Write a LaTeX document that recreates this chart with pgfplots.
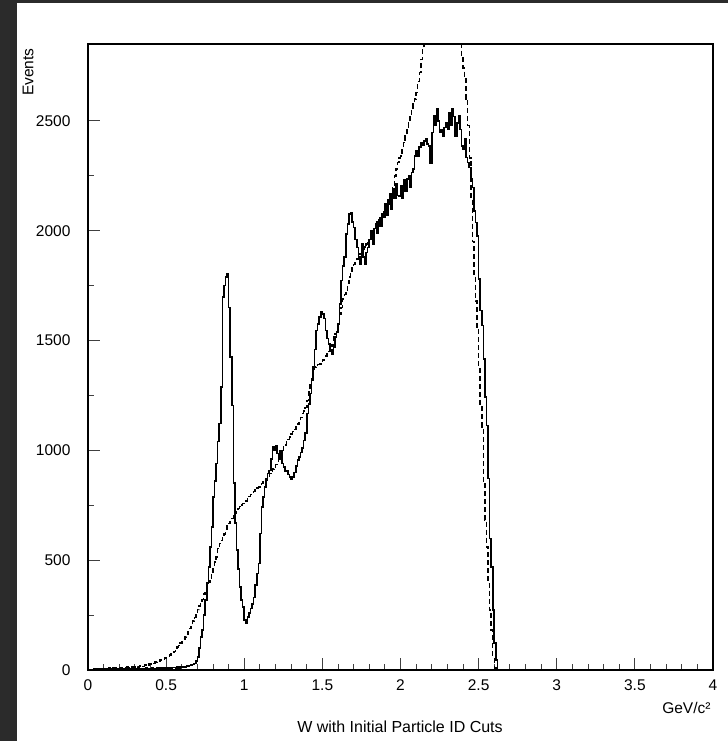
\documentclass[border=0pt]{standalone}
\usepackage{fontspec}
\setmainfont{Liberation Sans}
\usepackage{pgfplots}
\usepackage{pgfplotstable}
\pgfplotsset{compat=1.18}
\definecolor{framegray}{HTML}{2B2B2B}

% W spectrum, 0.01 GeV bins (lower bin edge):
% s = events with initial particle ID cuts, d = comparison spectrum (dashed)
\pgfplotstableread{
x s d
0.00 0 2
0.01 2 0
0.02 0 3
0.03 3 5
0.04 5 2
0.05 2 4
0.06 0 6
0.07 4 3
0.08 3 5
0.09 2 4
0.10 3 5
0.11 4 6
0.12 2 4
0.13 6 8
0.14 3 7
0.15 5 6
0.16 4 9
0.17 2 8
0.18 6 7
0.19 4 10
0.20 5 8
0.21 3 10
0.22 6 12
0.23 4 9
0.24 5 11
0.25 7 13
0.26 3 10
0.27 6 14
0.28 5 12
0.29 4 15
0.30 6 14
0.31 4 16
0.32 5 13
0.33 7 18
0.34 6 20
0.35 3 17
0.36 5 22
0.37 8 24
0.38 6 21
0.39 5 27
0.40 6 28
0.41 8 32
0.42 5 30
0.43 7 36
0.44 9 40
0.45 6 38
0.46 8 45
0.47 7 50
0.48 10 48
0.49 8 55
0.50 9 58
0.51 7 62
0.52 10 68
0.53 8 72
0.54 11 80
0.55 12 85
0.56 9 95
0.57 13 105
0.58 10 112
0.59 14 122
0.60 12 130
0.61 15 140
0.62 14 150
0.63 18 162
0.64 16 175
0.65 20 190
0.66 22 205
0.67 25 222
0.68 30 238
0.69 40 255
0.70 60 275
0.71 100 292
0.72 150 305
0.73 182 320
0.74 250 345
0.75 318 364
0.76 395 385
0.77 470 400
0.78 560 418
0.79 651 447
0.80 788 470
0.81 860 492
0.82 940 515
0.83 1040 553
0.84 1122 577
0.85 1288 590
0.86 1697 606
0.87 1750 620
0.88 1790 640
0.89 1805 655
0.90 1651 668
0.91 1424 680
0.92 1205 690
0.93 850 700
0.94 668 712
0.95 545 722
0.96 460 735
0.97 379 745
0.98 320 752
0.99 288 758
1.00 227 758
1.01 215 770
1.02 242 780
1.03 260 790
1.04 280 800
1.05 300 803
1.06 330 812
1.07 386 820
1.08 440 828
1.09 485 833
1.10 621 840
1.11 742 848
1.12 788 856
1.13 833 864
1.14 864 870
1.15 895 880
1.16 909 895
1.17 960 905
1.18 1015 915
1.19 1000 924
1.20 1020 935
1.21 986 950
1.22 960 968
1.23 1000 985
1.24 940 1000
1.25 925 1015
1.26 905 1025
1.27 909 1040
1.28 890 1050
1.29 879 1061
1.30 870 1075
1.31 880 1085
1.32 900 1095
1.33 930 1106
1.34 955 1120
1.35 970 1135
1.36 990 1150
1.37 1010 1167
1.38 1045 1180
1.39 1080 1195
1.40 1167 1227
1.41 1210 1265
1.42 1258 1303
1.43 1320 1340
1.44 1379 1370
1.45 1460 1379
1.46 1545 1385
1.47 1575 1390
1.48 1606 1394
1.49 1630 1405
1.50 1621 1412
1.51 1600 1420
1.52 1545 1430
1.53 1510 1439
1.54 1485 1450
1.55 1460 1462
1.56 1439 1480
1.57 1470 1515
1.58 1515 1530
1.59 1540 1550
1.60 1576 1580
1.61 1667 1621
1.62 1773 1650
1.63 1840 1690
1.64 1879 1710
1.65 1985 1727
1.66 2030 1760
1.67 2076 1790
1.68 2080 1810
1.69 2040 1833
1.70 2015 1845
1.71 1960 1860
1.72 1924 1870
1.73 1880 1885
1.74 1848 1894
1.75 1939 1905
1.76 1880 1915
1.77 1848 1925
1.78 1900 1939
1.79 1924 1950
1.80 1960 1960
1.81 2000 1975
1.82 1940 2000
1.83 2010 2010
1.84 2030 2025
1.85 1990 2040
1.86 2050 2050
1.87 2020 2061
1.88 2076 2075
1.89 2060 2085
1.90 2121 2095
1.91 2070 2106
1.92 2140 2120
1.93 2167 2136
1.94 2100 2160
1.95 2189 2200
1.96 2150 2250
1.97 2212 2280
1.98 2160 2311
1.99 2159 2330
2.00 2205 2341
2.01 2150 2370
2.02 2230 2402
2.03 2180 2430
2.04 2235 2462
2.05 2250 2490
2.06 2200 2523
2.07 2265 2550
2.08 2280 2576
2.09 2341 2600
2.10 2364 2629
2.11 2340 2680
2.12 2380 2720
2.13 2402 2780
2.14 2390 2833
2.15 2409 2870
2.16 2420 2920
2.17 2395 2970
2.18 2386 3010
2.19 2305 3050
2.20 2447 3090
2.21 2523 3120
2.22 2480 3150
2.23 2553 3170
2.24 2500 3190
2.25 2447 3200
2.26 2460 3210
2.27 2432 3215
2.28 2470 3210
2.29 2492 3200
2.30 2460 3180
2.31 2538 3150
2.32 2480 3110
2.33 2553 3060
2.34 2520 3010
2.35 2432 2960
2.36 2490 2920
2.37 2523 2890
2.38 2460 2860
2.39 2386 2800
2.40 2371 2740
2.41 2420 2690
2.42 2333 2600
2.43 2311 2480
2.44 2288 2330
2.45 2235 2150
2.46 2197 1950
2.47 2091 1800
2.48 2038 1680
2.49 1977 1560
2.50 1780 1380
2.51 1636 1212
2.52 1568 1106
2.53 1417 848
2.54 1242 682
2.55 1114 561
2.56 871 394
2.57 598 273
2.58 470 182
2.59 273 60
2.60 123 10
2.61 45 0
2.62 0 0
2.63 0 0
}\wdata

\begin{document}
\begin{tikzpicture}[x=1bp,y=1bp]
  % dark canvas edge and white page
  \fill[framegray] (0,0) rectangle (728,741);
  \fill[white] (17,0) rectangle (728,738);
  \useasboundingbox (0,0) rectangle (728,741);

  \begin{axis}[
    at={(88bp,71bp)}, anchor=south west,
    scale only axis, width=625bp, height=626bp,
    xmin=0, xmax=4, ymin=0, ymax=2850,
    xtick={0,0.5,...,4}, minor x tick num=4,
    ytick={0,500,1000,1500,2000,2500}, minor y tick num=1,
    xtick pos=left, ytick pos=left, tick align=inside,
    major tick length=12bp, minor tick length=6bp,
    every tick/.style={black!75, line width=0.9bp},
    axis line style={line width=1.6bp},
    /pgf/number format/assume math mode=true,
    /pgf/number format/1000 sep={},
    tick label style={font=\fontsize{15.5bp}{18bp}\selectfont},
    xticklabel style={yshift=-6bp},
    yticklabel style={xshift=-14bp},
    clip=true,
  ]
    \addplot[const plot, black, line width=1.6bp] table[x=x, y=s] {\wdata};
    \addplot[const plot, black, line width=1.5bp, dash pattern=on 5bp off 3bp] table[x=x, y=d] {\wdata};
  \end{axis}

  \node[rotate=90, anchor=east, font=\fontsize{15.5bp}{18bp}\selectfont] at (28,696) {Events};
  \node[anchor=east, font=\fontsize{15.5bp}{18bp}\selectfont] at (714,33) {GeV/c²};
  \node[anchor=center, font=\fontsize{16bp}{19bp}\selectfont] at (400,14) {W with Initial Particle ID Cuts};
\end{tikzpicture}
\end{document}
